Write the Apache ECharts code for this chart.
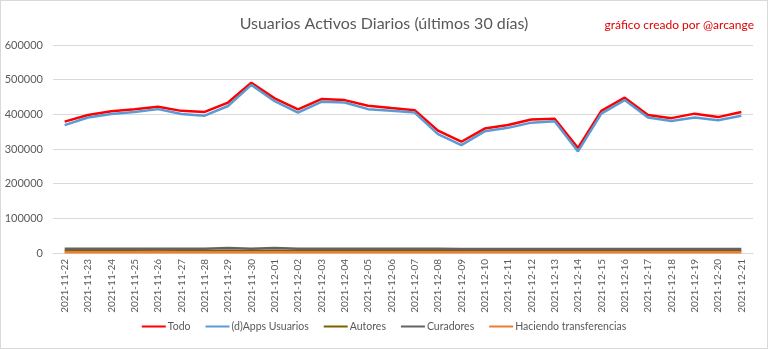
<!DOCTYPE html>
<html>
<head>
<meta charset="utf-8">
<script src="https://cdn.jsdelivr.net/npm/echarts@6/dist/echarts.min.js"></script>
<style>
html,body{margin:0;padding:0;background:#fff;}
#c{width:766px;height:347px;border:1px solid #d9d9d9;}
</style>
</head>
<body>
<div id="c"></div>
<script>
const categories = ["2021-11-22","2021-11-23","2021-11-24","2021-11-25","2021-11-26","2021-11-27","2021-11-28","2021-11-29","2021-11-30","2021-12-01","2021-12-02","2021-12-03","2021-12-04","2021-12-05","2021-12-06","2021-12-07","2021-12-08","2021-12-09","2021-12-10","2021-12-11","2021-12-12","2021-12-13","2021-12-14","2021-12-15","2021-12-16","2021-12-17","2021-12-18","2021-12-19","2021-12-20","2021-12-21"];
const todo = [379000,398000,409000,415000,422000,410000,407000,434000,491000,446000,414000,444000,441000,425000,418000,412000,353000,321000,359000,369000,385000,387000,303000,410000,448000,398000,389000,402000,392000,407000];
const apps = [369000,391000,401000,407000,415000,401000,396000,424000,485000,438000,405000,436000,434000,415000,410000,405000,343000,311000,351000,361000,376000,380000,293000,402000,441000,391000,381000,391000,383000,396000];
const autores = [6000,6000,6000,6000,6000,6000,6000,6500,6000,6500,6000,6000,6000,6000,6000,6000,6000,6000,6000,6000,6000,6000,6000,6000,6000,6000,6000,6000,6000,6000];
const curadores = [12000,12000,12000,12000,12000,12000,12000,14500,12000,14500,12000,12000,12000,12000,12000,12000,12000,11500,11500,11500,11500,11500,11500,11500,11500,11500,11500,11500,11500,11500];
const transferencias = [2000,2000,2000,2500,3000,2500,2000,2000,2000,2000,2000,2000,2000,2000,2000,2000,2500,2000,2000,2000,2000,2000,2000,2000,2000,2000,2000,2000,2000,2000];
const yTicks = [0,100000,200000,300000,400000,500000,600000];

const FONT = 'Lato';
const chart = echarts.init(document.getElementById('c'), null, {renderer:'canvas'});
const mk = (name, data, color, w) => ({
  name, type:'line', data, symbol:'none', smooth:false,
  lineStyle:{color, width:w}, itemStyle:{color}, animation:false
});
chart.setOption({
  animation:false,
  textStyle:{fontFamily:FONT},
  title:[
    {text:'Usuarios Activos Diarios (últimos 30 días)', left:'center', top:10,
     textStyle:{fontFamily:FONT, fontSize:16, fontWeight:'normal', color:'#595959'}},
    {text:'gráfico creado por @arcange', right:8, top:13,
     textStyle:{fontFamily:FONT, fontSize:12, fontWeight:'normal', color:'#e00000'}}
  ],
  legend:{
    bottom:11, left:'center', itemWidth:24, itemHeight:2, itemGap:15,
    icon:'rect',
    textStyle:{fontFamily:FONT, fontSize:10.5, color:'#595959', padding:[0,0,0,-3]},
    data:['Todo','(d)Apps Usuarios','Autores','Curadores','Haciendo transferencias']
  },
  grid:{left:52, right:14, top:44, bottom:95, containLabel:false},
  xAxis:{
    type:'category', data:categories, boundaryGap:true,
    axisLine:{show:true, lineStyle:{color:'#d9d9d9'}},
    axisTick:{show:false},
    axisLabel:{rotate:90, interval:0, fontSize:10, color:'#595959', margin:6, fontFamily:FONT}
  },
  yAxis:{
    type:'value', min:yTicks[0], max:yTicks[yTicks.length-1], interval:100000,
    axisLine:{show:false}, axisTick:{show:false},
    splitLine:{lineStyle:{color:'#d9d9d9'}},
    axisLabel:{fontSize:11, color:'#595959', margin:10, fontFamily:FONT, formatter:v => String(v)}
  },
  series:[
    mk('Todo', todo, '#ff0000', 2.5),
    mk('(d)Apps Usuarios', apps, '#5b9bd5', 2.5),
    mk('Autores', autores, '#7f6000', 2.5),
    mk('Curadores', curadores, '#636363', 2.5),
    mk('Haciendo transferencias', transferencias, '#ed7d31', 2.5)
  ]
});
</script>
</body>
</html>
